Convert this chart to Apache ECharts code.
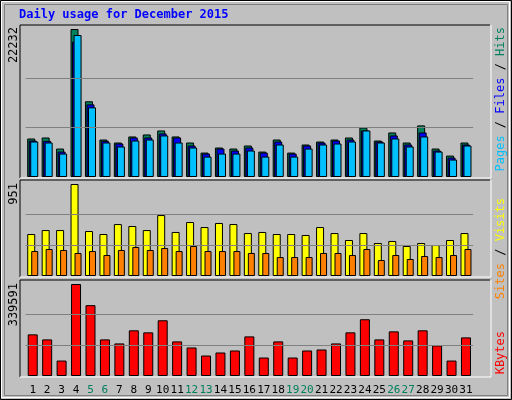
<!DOCTYPE html>
<html>
<head>
<meta charset="utf-8">
<script src="https://cdn.jsdelivr.net/npm/echarts@6/dist/echarts.min.js"></script>
<style>html,body{margin:0;padding:0;background:#c0c0c0}#chart{width:512px;height:400px}</style>
</head>
<body>
<div id="chart"></div>
<script>
'use strict';

var days = ['1','2','3','4','5','6','7','8','9','10','11','12','13','14','15','16','17','18','19','20','21','22','23','24','25','26','27','28','29','30','31'];
var weekend = ['5','6','12','13','19','20','26','27'];
var hits = [5785,5935,4275,22232,11370,5630,5180,6090,6390,6990,6090,5180,3670,4430,4275,4730,3820,5630,3670,4880,5330,5630,5935,7440,5480,6690,5180,7750,4275,3220,5180];
var files = [5480,5430,3820,20320,10910,5430,5030,5935,5935,6540,5935,4730,3520,4275,3975,4430,3670,5330,3520,4730,5180,5480,5630,6990,5330,6240,4880,6690,3975,2920,4880];
var pages = [5330,5180,3520,21330,10460,5180,4580,5480,5630,6240,5180,4430,3070,3520,3520,3975,3070,4880,3070,4275,4880,5030,5330,6990,5180,5785,4580,6090,3820,2620,4730];
var visits = [434,475,475,951,465,434,537,517,475,630,455,558,506,548,537,444,455,434,434,424,506,444,372,444,341,362,310,341,320,372,444];
var sites = [258,279,269,238,258,217,269,300,269,289,258,310,258,258,258,238,238,196,196,196,238,238,217,279,165,217,176,207,196,217,279];
var kbytes = [153700,135100,57000,339591,261500,135100,120200,168600,161100,205700,127700,105300,75600,86800,94200,146200,68200,127700,68200,94200,97900,120200,161100,209500,135100,164800,131400,168600,112800,57000,142500];

var mono = 'DejaVu Sans Mono';
var chart = echarts.init(document.getElementById('chart'));

// panel: frame top / baseline, peak sits 4px under the frame
var panels = [
  {top: 25, bottom: 177, max: 22232},
  {top: 180, bottom: 276, max: 951},
  {top: 280, bottom: 376, max: 339591}
];
var gridLeft = 25.5, gridWidth = 447.7;

function gridLines(p) {
  return {
    silent: true, symbol: 'none', label: {show: false},
    lineStyle: {color: '#808080', type: 'solid', width: 1},
    data: [{yAxis: p.max / 3}, {yAxis: p.max * 2 / 3}]
  };
}

var grids = [], xAxes = [], yAxes = [];
panels.forEach(function (p, i) {
  var h = p.bottom - p.top;
  grids.push({left: gridLeft, width: gridWidth, top: p.top, height: h});
  xAxes.push({
    type: 'category', gridIndex: i, data: days,
    axisLine: {show: false}, axisTick: {show: false},
    axisLabel: {
      show: i === 2, interval: 0, margin: 9, fontFamily: mono, fontSize: 11,
      color: function (v) { return weekend.indexOf(v) >= 0 ? '#00805c' : '#000'; }
    }
  });
  yAxes.push({
    type: 'value', gridIndex: i, min: 0, max: p.max * h / (h - 4),
    axisLine: {show: false}, axisTick: {show: false},
    axisLabel: {show: false}, splitLine: {show: false}
  });
});

function bar(name, data, idx, color, width, gap, extra) {
  var s = {
    name: name, type: 'bar', data: data, xAxisIndex: idx, yAxisIndex: idx,
    barWidth: width, barGap: gap, animation: false,
    itemStyle: {color: color, borderColor: '#000', borderWidth: 1}
  };
  if (extra) s.markLine = extra;
  return s;
}

function vtext(x, y, parts) {
  // vertical text reading bottom to top
  var rich = {};
  var str = parts.map(function (p, k) {
    rich['p' + k] = {fill: p[1], fontFamily: mono, fontSize: 12};
    return '{p' + k + '|' + p[0] + '}';
  }).join('');
  return {
    type: 'text', x: x, y: y, rotation: Math.PI / 2,
    style: {text: str, rich: rich, textAlign: 'right', textVerticalAlign: 'top'}
  };
}

var frames = panels.map(function (p) {
  return {
    type: 'group', children: [
      {type: 'line', shape: {x1: 20, y1: p.top, x2: 490, y2: p.top}, style: {stroke: '#000'}},
      {type: 'line', shape: {x1: 20, y1: p.top, x2: 20, y2: p.bottom + 1}, style: {stroke: '#000'}},
      {type: 'line', shape: {x1: 20, y1: p.bottom + 1, x2: 491, y2: p.bottom + 1}, style: {stroke: '#fff'}},
      {type: 'line', shape: {x1: 491, y1: p.top, x2: 491, y2: p.bottom + 1}, style: {stroke: '#fff'}}
    ]
  };
});

chart.setOption({
  backgroundColor: '#c0c0c0',
  animation: false,
  grid: grids,
  xAxis: xAxes,
  yAxis: yAxes,
  series: [
    bar('Hits', hits, 0, '#00805c', 8, '-81%', gridLines(panels[0])),
    bar('Files', files, 0, '#0000ff', 8, '-81%'),
    bar('Pages', pages, 0, '#00c0ff', 8, '-81%'),
    bar('Visits', visits, 1, '#ffff00', 8, '-50%', gridLines(panels[1])),
    bar('Sites', sites, 1, '#ff8000', 7, '-50%'),
    bar('KBytes', kbytes, 2, '#ff0000', 10, '0%', gridLines(panels[2]))
  ],
  graphic: [
    {type: 'rect', shape: {x: 0.5, y: 0.5, width: 511, height: 399}, style: {fill: 'none', stroke: '#000'}, z: -1},
    {type: 'rect', shape: {x: 1.5, y: 1.5, width: 508, height: 396}, style: {fill: 'none', stroke: '#fff'}, z: -1},
    {type: 'rect', shape: {x: 4.5, y: 4.5, width: 503, height: 391}, style: {fill: 'none', stroke: '#808080'}, z: -1},
    {type: 'text', x: 19, y: 9, style: {text: 'Daily usage for December 2015', fill: '#0000ff', font: 'bold 12px "DejaVu Sans Mono"'}},
    {type: 'text', x: 8, y: 27, rotation: Math.PI / 2, style: {text: '22232', fill: '#000', font: '12px "DejaVu Sans Mono"', textAlign: 'right', textVerticalAlign: 'top'}},
    {type: 'text', x: 8, y: 183, rotation: Math.PI / 2, style: {text: '951', fill: '#000', font: '12px "DejaVu Sans Mono"', textAlign: 'right', textVerticalAlign: 'top'}},
    {type: 'text', x: 8, y: 283, rotation: Math.PI / 2, style: {text: '339591', fill: '#000', font: '12px "DejaVu Sans Mono"', textAlign: 'right', textVerticalAlign: 'top'}},
    vtext(495, 27, [['Pages', '#00c0ff'], [' / ', '#000'], ['Files', '#0000ff'], [' / ', '#000'], ['Hits', '#00805c']]),
    vtext(495, 198, [['Sites', '#ff8000'], [' / ', '#000'], ['Visits', '#ffff00']]),
    vtext(495, 331, [['KBytes', '#ff0000']])
  ].concat(frames)
});
</script>
</body>
</html>
